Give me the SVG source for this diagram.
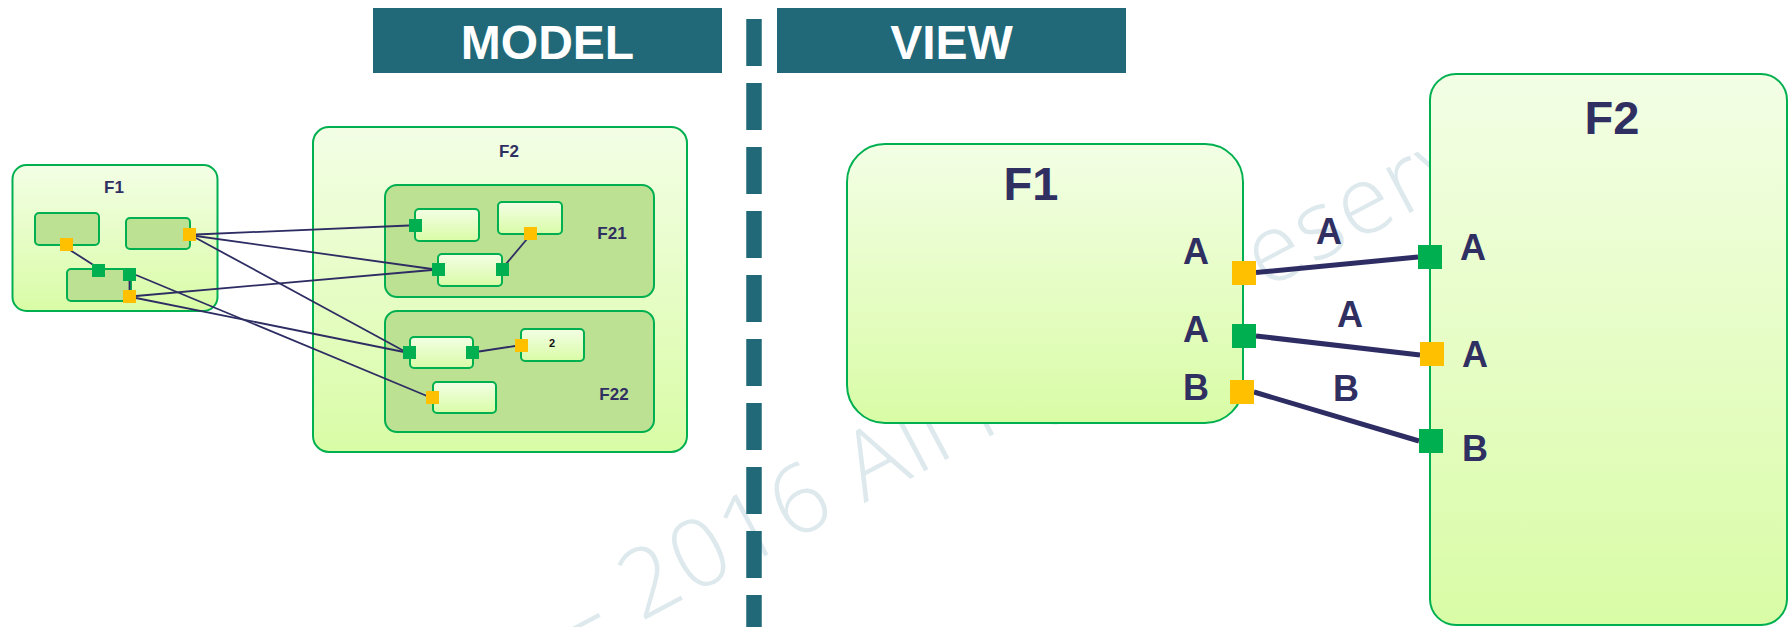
<svg xmlns="http://www.w3.org/2000/svg" width="1789" height="627" viewBox="0 0 1789 627">
<style>
.hdr{fill:#216978}
.hdrt{fill:#ffffff;font-family:"Liberation Sans",Arial,sans-serif;font-weight:bold;font-size:48px;text-anchor:middle}
.box{fill:url(#g);stroke:#00b050;stroke-width:2}
.dark{fill:#bce193;stroke:#00b050;stroke-width:2}
.lt{fill:url(#g);stroke:#00b050;stroke-width:2}
.py{fill:#ffc000}
.pg{fill:#00b050}
.t{fill:#302f62;font-family:"Liberation Sans",Arial,sans-serif;font-weight:bold;text-anchor:middle}
.ts{font-size:17px}
.tb{font-size:47px}
.tp{font-size:36px}
.c{stroke:#2e2d63;stroke-width:1.8;fill:none}
.cv{stroke:#2e2d63;stroke-width:5;fill:none}
.wm{fill:#dde9ed;font-family:"Open Sans","DejaVu Sans",sans-serif;font-weight:300;font-size:95px;letter-spacing:2.3px}
</style>
<defs>
<linearGradient id="g" x1="0" y1="0" x2="0" y2="1">
<stop offset="0" stop-color="#f3fee5"/>
<stop offset="1" stop-color="#d9fca6"/>
</linearGradient>
<clipPath id="wmclip">
<rect x="0" y="0" width="1430" height="627"/>
</clipPath>
</defs>
<rect width="1789" height="627" fill="#ffffff"/>
<g id="watermark" clip-path="url(#wmclip)">
<text class="wm" transform="translate(573,658) rotate(-28)">– 2016 All rights reserved</text>
</g>
<g id="header-model">
<rect class="hdr" x="373" y="8" width="349" height="65"/>
<text class="hdrt" x="547.5" y="59">MODEL</text>
</g>
<g id="header-view">
<rect class="hdr" x="777" y="8" width="349" height="65"/>
<text class="hdrt" x="951.5" y="59">VIEW</text>
</g>
<g id="divider">
<line x1="754" y1="19" x2="754" y2="627" stroke="#216978" stroke-width="15.5" stroke-dasharray="47 17"/>
</g>
<g id="model-F1">
<rect class="box" x="12.5" y="165" width="205" height="146" rx="14"/>
<text class="t ts" x="114" y="193">F1</text>
<rect class="dark" x="35" y="213" width="64" height="32" rx="4"/>
<rect class="dark" x="126" y="218" width="64" height="31" rx="4"/>
<rect class="dark" x="67" y="269" width="64" height="32" rx="4"/>
</g>
<g id="model-F2">
<rect class="box" x="313" y="127" width="374" height="325" rx="16"/>
<text class="t ts" x="509" y="157">F2</text>
</g>
<g id="model-F21">
<rect class="dark" x="385" y="185" width="269" height="112" rx="12"/>
<text class="t ts" x="612" y="239">F21</text>
<rect class="lt" x="415" y="209" width="64" height="32" rx="4"/>
<rect class="lt" x="498" y="202" width="64" height="32" rx="4"/>
<rect class="lt" x="438" y="254" width="64" height="32" rx="4"/>
</g>
<g id="model-F22">
<rect class="dark" x="385" y="311" width="269" height="121" rx="12"/>
<text class="t ts" x="614" y="400">F22</text>
<rect class="lt" x="410" y="337" width="63" height="31" rx="4"/>
<rect class="lt" x="521" y="329" width="63" height="32" rx="4"/>
<text x="552" y="347" font-family="Liberation Sans,Arial,sans-serif" font-weight="bold" font-size="11" text-anchor="middle" fill="#111111">2</text>
<rect class="lt" x="433" y="382" width="63" height="31" rx="4"/>
</g>
<g id="view-F1">
<rect class="box" x="847" y="144" width="396" height="279" rx="38"/>
<text class="t tb" x="1031" y="200">F1</text>
<text class="t tp" x="1196" y="264">A</text>
<text class="t tp" x="1196" y="342">A</text>
<text class="t tp" x="1196" y="400">B</text>
</g>
<g id="view-F2">
<rect class="box" x="1430" y="74" width="357" height="551" rx="26"/>
<text class="t tb" x="1612" y="134">F2</text>
<text class="t tp" x="1473" y="260">A</text>
<text class="t tp" x="1475" y="367">A</text>
<text class="t tp" x="1475" y="461">B</text>
</g>
<g id="connectors">
<line class="c" x1="70" y1="250" x2="95" y2="266"/>
<line class="c" x1="129.5" y1="280" x2="129.5" y2="291"/>
<line class="c" x1="196" y1="234.5" x2="409" y2="225.5"/>
<line class="c" x1="196" y1="236" x2="432" y2="269"/>
<line class="c" x1="196" y1="238" x2="404" y2="351"/>
<line class="c" x1="136" y1="296" x2="432" y2="270"/>
<line class="c" x1="136" y1="298" x2="404" y2="352"/>
<line class="c" x1="136" y1="275" x2="427" y2="396"/>
<line class="c" x1="506" y1="264" x2="527" y2="239"/>
<line class="c" x1="479" y1="351.5" x2="515" y2="346"/>
<line class="cv" x1="1256" y1="272.5" x2="1418" y2="257"/>
<line class="cv" x1="1256" y1="336" x2="1420" y2="355"/>
<line class="cv" x1="1254" y1="392" x2="1419" y2="441"/>
<text class="t tp" x="1329" y="244">A</text>
<text class="t tp" x="1350" y="327">A</text>
<text class="t tp" x="1346" y="401">B</text>
</g>
<g id="ports">
<rect class="py" x="60" y="238" width="13" height="13"/>
<rect class="py" x="183" y="228" width="13" height="13"/>
<rect class="pg" x="92" y="264" width="13" height="13"/>
<rect class="pg" x="123" y="268" width="13" height="13"/>
<rect class="py" x="123" y="290" width="13" height="13"/>
<rect class="pg" x="409" y="219" width="13" height="13"/>
<rect class="py" x="524" y="227" width="13" height="13"/>
<rect class="pg" x="432" y="263" width="13" height="13"/>
<rect class="pg" x="496" y="263" width="13" height="13"/>
<rect class="pg" x="403" y="346" width="13" height="13"/>
<rect class="pg" x="466" y="346" width="13" height="13"/>
<rect class="py" x="515" y="339" width="13" height="13"/>
<rect class="py" x="426" y="391" width="13" height="13"/>
<rect class="py" x="1232" y="261" width="24" height="24"/>
<rect class="pg" x="1232" y="324" width="24" height="24"/>
<rect class="py" x="1230" y="380" width="24" height="24"/>
<rect class="pg" x="1418" y="245" width="24" height="24"/>
<rect class="py" x="1420" y="342" width="24" height="24"/>
<rect class="pg" x="1419" y="429" width="24" height="24"/>
</g>
</svg>
